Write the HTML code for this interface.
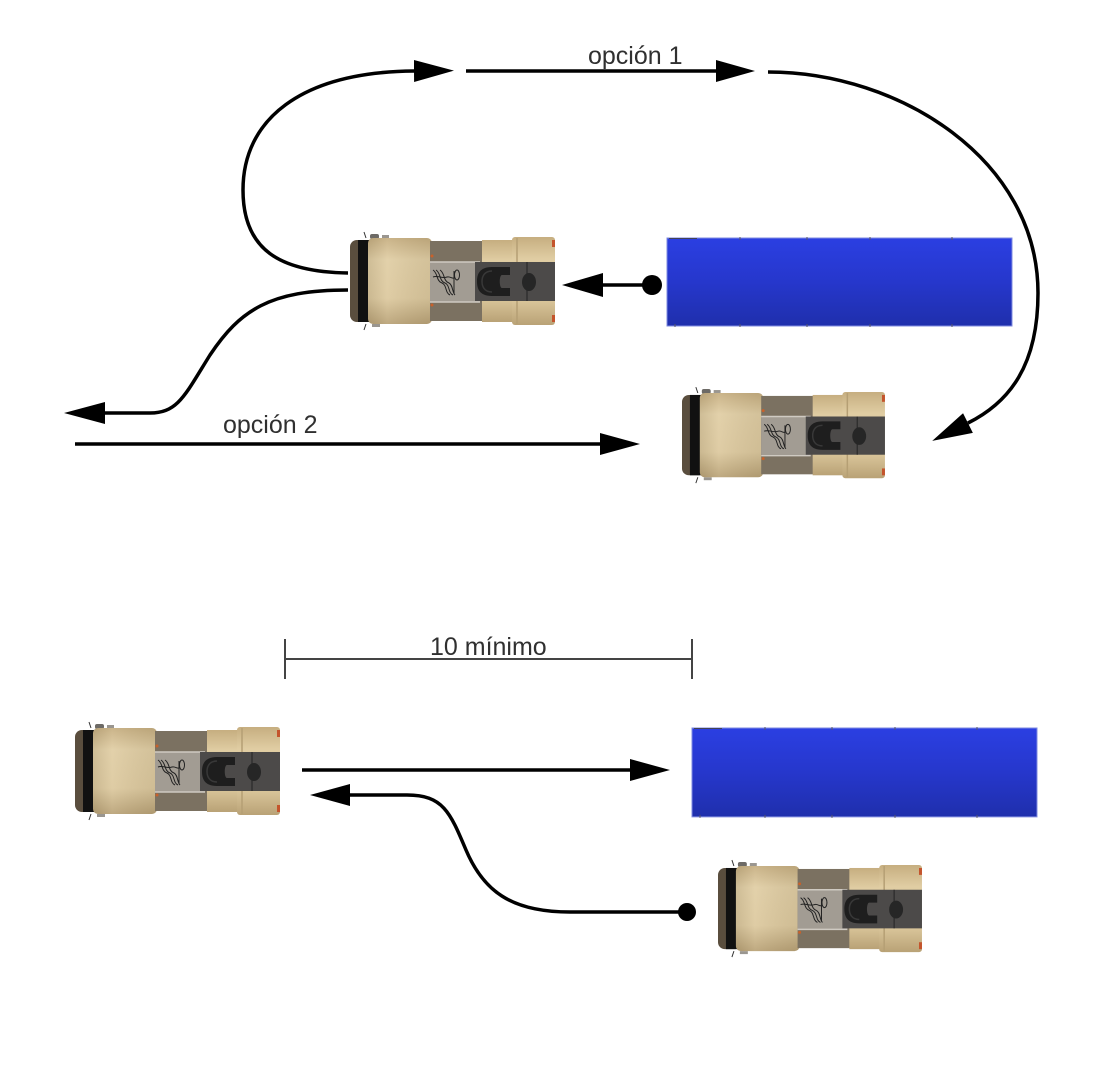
<!DOCTYPE html>
<html>
<head>
<meta charset="utf-8">
<style>
  html,body{margin:0;padding:0;background:#fff;}
  svg{display:block;}
  text{font-family:"Liberation Sans",Arial,sans-serif;fill:#303030;}
</style>
</head>
<body>
<svg width="1106" height="1072" viewBox="0 0 1106 1072" xmlns="http://www.w3.org/2000/svg">
  <defs>
    <linearGradient id="tan" x1="0" y1="0" x2="0" y2="1">
      <stop offset="0" stop-color="#c6ae80"/>
      <stop offset="0.25" stop-color="#e0cda3"/>
      <stop offset="0.7" stop-color="#dcc89d"/>
      <stop offset="1" stop-color="#b9a276"/>
    </linearGradient>
    <linearGradient id="tanH" x1="0" y1="0" x2="1" y2="0">
      <stop offset="0" stop-color="#000" stop-opacity="0.08"/>
      <stop offset="0.3" stop-color="#fff" stop-opacity="0.08"/>
      <stop offset="1" stop-color="#000" stop-opacity="0.06"/>
    </linearGradient>
    <linearGradient id="blue" x1="0" y1="0" x2="0" y2="1">
      <stop offset="0" stop-color="#2b3fe2"/>
      <stop offset="0.5" stop-color="#2637cc"/>
      <stop offset="1" stop-color="#1f2fac"/>
    </linearGradient>
    <marker id="ah" viewBox="0 0 40 22" refX="0" refY="11" markerWidth="40" markerHeight="22" markerUnits="userSpaceOnUse" orient="auto">
      <path d="M0,0 L40,11 L0,22 Z" fill="#000"/>
    </marker>
    <g id="truck">
      <!-- mirrors -->
      <rect x="20" y="-3" width="9" height="5" rx="2" fill="#6d6a66"/>
      <rect x="32" y="-2" width="7" height="3" fill="#9a9690"/>
      <line x1="14" y1="-5" x2="16" y2="1" stroke="#333" stroke-width="1"/>
      <line x1="14" y1="93" x2="16" y2="87" stroke="#333" stroke-width="1"/>
      <rect x="22" y="87" width="8" height="3" fill="#9a9690"/>
      <!-- front bumper -->
      <rect x="0" y="3" width="24" height="82" rx="7" fill="#5a4e3e"/>
      <rect x="8" y="3" width="11" height="82" fill="#111"/>
      <!-- cab -->
      <rect x="18" y="1" width="64" height="86" rx="5" fill="url(#tan)"/>
      <rect x="18" y="1" width="64" height="86" rx="5" fill="url(#tanH)"/>
      <!-- middle section -->
      <rect x="80" y="4" width="55" height="80" fill="#7b7161"/>
      <rect x="80" y="25" width="50" height="40" fill="#a29c93"/>
      <line x1="80" y1="25" x2="130" y2="25" stroke="#cfcac2" stroke-width="1.5"/>
      <line x1="80" y1="65" x2="130" y2="65" stroke="#cfcac2" stroke-width="1.5"/>
      <circle cx="82" cy="19" r="1.5" fill="#c8612a"/>
      <circle cx="82" cy="68" r="1.5" fill="#c8612a"/>
      <!-- hoses -->
      <g fill="none" stroke="#222" stroke-width="1">
        <path d="M83,33 C88,36 86,44 92,46 C97,48 95,56 100,58"/>
        <path d="M86,33 C91,36 89,44 95,46 C100,48 98,56 103,58"/>
        <path d="M90,33 C95,36 93,44 99,46 C103,48 102,55 105,58"/>
        <path d="M83,40 C88,38 92,42 97,40 C100,39 102,42 104,41"/>
        <path d="M104,34 L104,57"/>
        <ellipse cx="107" cy="38" rx="2.5" ry="5"/>
      </g>
      <!-- tan zone -->
      <rect x="132" y="3" width="32" height="82" fill="url(#tan)"/>
      <!-- rear fender -->
      <rect x="162" y="0" width="43" height="88" rx="3" fill="url(#tan)"/>
      <line x1="167" y1="1" x2="167" y2="87" stroke="#b59f74" stroke-width="1.5"/>
      <!-- dark strip -->
      <rect x="125" y="25" width="80" height="39" fill="#4c4a49"/>
      <!-- seat -->
      <path d="M160,30 L142,30 C129,30 127,38 127,44.5 C127,51 129,59 142,59 L160,59 L160,51 L152,51 C149,51 149,38 152,38 L160,38 Z" fill="#1e1e1e"/>
      <path d="M142,34 C134,34 132,40 132,44.5 C132,49 134,55 142,55" fill="none" stroke="#383838" stroke-width="1.5"/>
      <!-- knob -->
      <line x1="177" y1="25" x2="177" y2="64" stroke="#2a2a2a" stroke-width="1.2"/>
      <ellipse cx="179" cy="45" rx="7" ry="9" fill="#262626"/>
      <!-- lights -->
      <rect x="202" y="3" width="3" height="7" fill="#c4542c"/>
      <rect x="202" y="78" width="3" height="7" fill="#c4542c"/>
    </g>
    <g id="trailer">
      <rect x="0" y="0" width="345" height="88" fill="url(#blue)" stroke="#7f8be0" stroke-width="1"/>
      <g stroke="#556" stroke-width="1">
        <line x1="73" y1="-1" x2="73" y2="2"/>
        <line x1="140" y1="-1" x2="140" y2="2"/>
        <line x1="203" y1="-1" x2="203" y2="2"/>
        <line x1="285" y1="-1" x2="285" y2="2"/>
        <line x1="8" y1="86" x2="8" y2="89"/>
        <line x1="73" y1="86" x2="73" y2="89"/>
        <line x1="140" y1="86" x2="140" y2="89"/>
        <line x1="203" y1="86" x2="203" y2="89"/>
        <line x1="285" y1="86" x2="285" y2="89"/>
      </g>
      <line x1="2" y1="0.5" x2="30" y2="0.5" stroke="#445" stroke-width="1"/>
    </g>
  </defs>

  <!-- ===== TOP SCENE ===== -->
  <use href="#trailer" x="667" y="238"/>
  <use href="#truck" transform="translate(350,237)"/>
  <use href="#truck" transform="translate(682,392) scale(0.99,0.98)"/>

  <!-- opción 1 left curve -->
  <path d="M348,273 C280,272 243,250 243,190 C243,120 300,72 414,71" fill="none" stroke="#000" stroke-width="3.5" marker-end="url(#ah)"/>
  <!-- opción 1 straight -->
  <line x1="466" y1="71" x2="717" y2="71" stroke="#000" stroke-width="3.5"/>
  <path d="M716,60 L755,71 L716,82 Z" fill="#000"/>
  <text x="588" y="64" font-size="25">opción 1</text>
  <!-- opción 1 right curve -->
  <path d="M768,72 C900,72 1038,160 1038,293 C1038,365 1010,402 968,423" fill="none" stroke="#000" stroke-width="3.5" marker-end="url(#ah)"/>

  <!-- truck 1 dot arrow -->
  <circle cx="652" cy="285" r="10" fill="#000"/>
  <line x1="602" y1="285" x2="652" y2="285" stroke="#000" stroke-width="3.5"/>
  <path d="M603,273 L562,285 L603,297 Z" fill="#000"/>

  <!-- opción 2 exit curve -->
  <path d="M348,290 C270,290 240,310 210,355 C185,395 178,413 150,413 L104,413" fill="none" stroke="#000" stroke-width="3.5"/>
  <path d="M105,402 L64,413 L105,424 Z" fill="#000"/>
  <!-- opción 2 line -->
  <text x="223" y="433" font-size="25">opción 2</text>
  <line x1="75" y1="444" x2="601" y2="444" stroke="#000" stroke-width="3.5"/>
  <path d="M600,433 L640,444 L600,455 Z" fill="#000"/>

  <!-- ===== BOTTOM SCENE ===== -->
  <!-- dimension -->
  <line x1="285" y1="659" x2="692" y2="659" stroke="#444" stroke-width="2"/>
  <line x1="285" y1="639" x2="285" y2="679" stroke="#444" stroke-width="2"/>
  <line x1="692" y1="639" x2="692" y2="679" stroke="#444" stroke-width="2"/>
  <text x="430" y="655" font-size="25">10 mínimo</text>

  <use href="#truck" transform="translate(75,727)"/>
  <use href="#trailer" transform="translate(692,728) scale(1,1.01)"/>
  <use href="#truck" transform="translate(718,865) scale(0.995,0.99)"/>

  <!-- forward arrow -->
  <line x1="302" y1="770" x2="631" y2="770" stroke="#000" stroke-width="3.5"/>
  <path d="M630,759 L670,770 L630,781 Z" fill="#000"/>

  <!-- return S-curve -->
  <circle cx="687" cy="912" r="9" fill="#000"/>
  <path d="M687,912 L570,912 C510,912 483,890 466,850 C450,812 443,795 407,795 L349,795" fill="none" stroke="#000" stroke-width="3.5"/>
  <path d="M350,784 L310,795 L350,806 Z" fill="#000"/>
</svg>
</body>
</html>
